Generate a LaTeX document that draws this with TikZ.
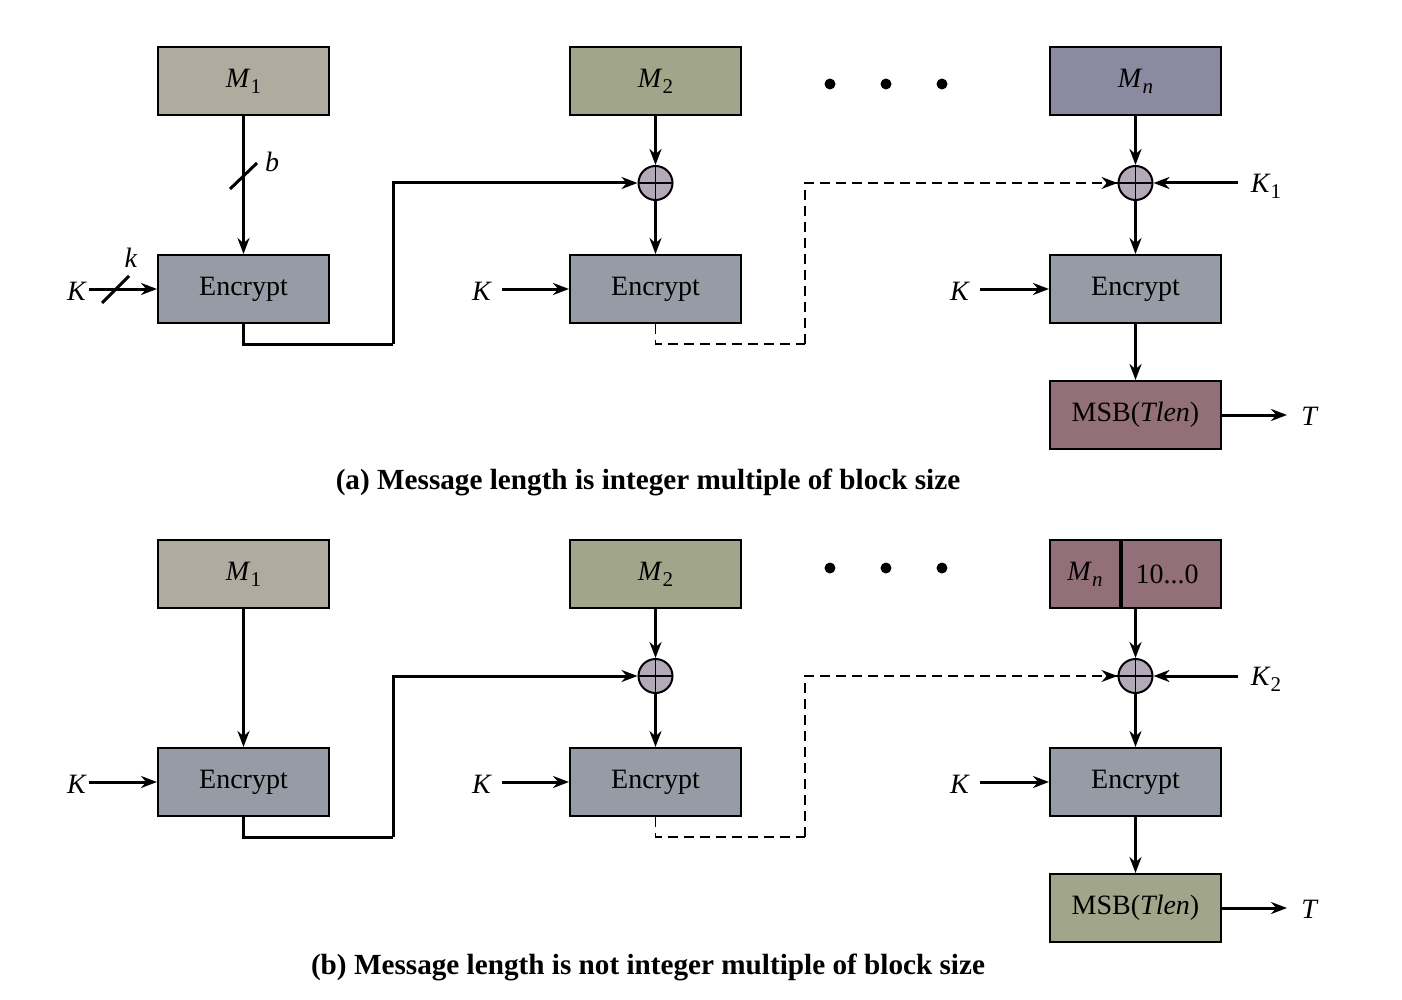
\documentclass[tikz,border=0pt]{standalone}
\usepackage{fontspec}
\setmainfont{Liberation Serif}
\usetikzlibrary{arrows.meta}
% italic symbol with a lowered subscript
\newcommand{\lowsub}[1]{\raisebox{-0.45ex}{\fontsize{10.5}{12}\selectfont #1}}

\definecolor{cMone}{HTML}{B1AB9F}
\definecolor{cMtwo}{HTML}{A1A68A}
\definecolor{cMn}{HTML}{8B8AA0}
\definecolor{cEnc}{HTML}{959CA5}
\definecolor{cMsb}{HTML}{937079}
\definecolor{cXor}{HTML}{B3A9B9}

\begin{document}
\begin{tikzpicture}[x=0.5pt,y=-0.5pt,
  font=\fontsize{14}{16}\selectfont,
  blk/.style={draw=black, line width=1pt, minimum width=85.5pt,
              minimum height=34pt, inner sep=0pt},
  flow/.style={line width=1.5pt, -{Stealth[length=8pt,width=6pt]}},
  chain/.style={line width=1.5pt},
  dchain/.style={line width=0.8pt, dash pattern=on 5pt off 3pt},
  dtip/.style={-{Stealth[length=8pt,width=6pt]}},
  xorc/.style={circle, draw=black, fill=cXor, line width=1pt,
               minimum size=17pt, inner sep=0pt,
               path picture={\draw[line width=0.8pt]
                 (path picture bounding box.north) -- (path picture bounding box.south)
                 (path picture bounding box.west) -- (path picture bounding box.east);}},
  lbl/.style={inner sep=1pt},
  dot/.style={circle, fill=black, minimum size=5.5pt, inner sep=0pt},
  slash/.style={line width=1.5pt},
  captext/.style={font=\fontsize{14.6}{17}\selectfont\bfseries}
]
\useasboundingbox (0,0) rectangle (1402,1000);

% ---------------- (a) ----------------
\node[blk, fill=cMone] (m1a) at (243.5,81) {\textit{M}\lowsub{1}};
\node[blk, fill=cMtwo] (m2a) at (655.5,81) {\textit{M}\lowsub{2}};
\node[blk, fill=cMn]   (mna) at (1135.5,81) {\textit{M}\lowsub{\textit{n}}};
\node[dot] (d1a) at (830,84) {};
\node[dot] (d2a) at (886,84) {};
\node[dot] (d3a) at (942,84) {};

\node[xorc] (x2a) at (655.5,183) {};
\node[xorc] (xna) at (1135.5,183) {};

\node[blk, fill=cEnc] (e1a) at (243.5,289) {Encrypt};
\node[blk, fill=cEnc] (e2a) at (655.5,289) {Encrypt};
\node[blk, fill=cEnc] (ena) at (1135.5,289) {Encrypt};
\node[blk, fill=cMsb] (sa)  at (1135.5,415) {MSB(\textit{Tlen})};

\node[lbl] (k1a) at (77,291) {\textit{K}};
\node[lbl] (k2a) at (482,291) {\textit{K}};
\node[lbl] (k3a) at (960,291) {\textit{K}};
\node[lbl] (kxa) at (1266,186) {\textit{K}\lowsub{1}};
\node[lbl] (ta)  at (1310,416) {\textit{T}};
\node[lbl] (ba)  at (272,162) {\textit{b}};
\node[lbl] (ka)  at (131,258) {\textit{k}};

\draw[flow] (m1a.south) -- (e1a.north);
\draw[slash] (230,189) -- (257,163);
\draw[flow] (k1a.east |- e1a.west) -- (e1a.west);
\draw[slash] (102,303) -- (129,276);
\draw[flow] ([xshift=4pt]k2a.east |- e2a.west) -- (e2a.west);
\draw[flow] ([xshift=4pt]k3a.east |- ena.west) -- (ena.west);

\coordinate (c1a) at (393,344);
\draw[chain] (e1a.south) |- (c1a);
\draw[flow] (c1a) |- (x2a.west);
\draw[flow] (m2a.south) -- (x2a.north);
\draw[flow] (x2a.south) -- (e2a.north);

\coordinate (c2a) at (805,344);
\draw[dchain] (e2a.south) |- (c2a);
\draw[dchain] (c2a) |- (xna.west);
\draw[line width=0.8pt, dtip] ([xshift=-6pt]xna.west) -- (xna.west);
\draw[flow] (mna.south) -- (xna.north);
\draw[flow] ([xshift=42pt]xna.east) -- (xna.east);
\draw[flow] (xna.south) -- (ena.north);
\draw[flow] (ena.south) -- (sa.north);
\draw[flow] (sa.east) -- ([xshift=-6pt]ta.west |- sa.east);

\node[captext] (capa) at (648,482) {(a) Message length is integer multiple of block size};

% ---------------- (b) ----------------
\begin{scope}[shift={(0,493)}]
\node[blk, fill=cMsb]  (mnb) at (1135.5,81) {};
\draw[line width=1.6pt] (1121,47) -- (1121,115);
\node[lbl] (mnlb) at (1085,81) {\textit{M}\lowsub{\textit{n}}};
\node[lbl] (padb) at (1167,81) {10...0};
\node[blk, fill=cMone] (m1b) at (243.5,81) {\textit{M}\lowsub{1}};
\node[blk, fill=cMtwo] (m2b) at (655.5,81) {\textit{M}\lowsub{2}};
\node[dot] (d1b) at (830,75) {};
\node[dot] (d2b) at (886,75) {};
\node[dot] (d3b) at (942,75) {};

\node[xorc] (x2b) at (655.5,183) {};
\node[xorc] (xnb) at (1135.5,183) {};

\node[blk, fill=cEnc] (e1b) at (243.5,289) {Encrypt};
\node[blk, fill=cEnc] (e2b) at (655.5,289) {Encrypt};
\node[blk, fill=cEnc] (enb) at (1135.5,289) {Encrypt};
\node[blk, fill=cMtwo] (sb) at (1135.5,415) {MSB(\textit{Tlen})};

\node[lbl] (k1b) at (77,291) {\textit{K}};
\node[lbl] (k2b) at (482,291) {\textit{K}};
\node[lbl] (k3b) at (960,291) {\textit{K}};
\node[lbl] (kxb) at (1266,186) {\textit{K}\lowsub{2}};
\node[lbl] (tb)  at (1310,416) {\textit{T}};

\draw[flow] (m1b.south) -- (e1b.north);
\draw[flow] (k1b.east |- e1b.west) -- (e1b.west);
\draw[flow] ([xshift=4pt]k2b.east |- e2b.west) -- (e2b.west);
\draw[flow] ([xshift=4pt]k3b.east |- enb.west) -- (enb.west);

\coordinate (c1b) at (393,344);
\draw[chain] (e1b.south) |- (c1b);
\draw[flow] (c1b) |- (x2b.west);
\draw[flow] (m2b.south) -- (x2b.north);
\draw[flow] (x2b.south) -- (e2b.north);

\coordinate (c2b) at (805,344);
\draw[dchain] (e2b.south) |- (c2b);
\draw[dchain] (c2b) |- (xnb.west);
\draw[line width=0.8pt, dtip] ([xshift=-6pt]xnb.west) -- (xnb.west);
\draw[flow] (mnb.south) -- (xnb.north);
\draw[flow] ([xshift=42pt]xnb.east) -- (xnb.east);
\draw[flow] (xnb.south) -- (enb.north);
\draw[flow] (enb.south) -- (sb.north);
\draw[flow] (sb.east) -- ([xshift=-6pt]tb.west |- sb.east);
\end{scope}

\node[captext] (capb) at (648,967) {(b) Message length is not integer multiple of block size};
\end{tikzpicture}
\end{document}
